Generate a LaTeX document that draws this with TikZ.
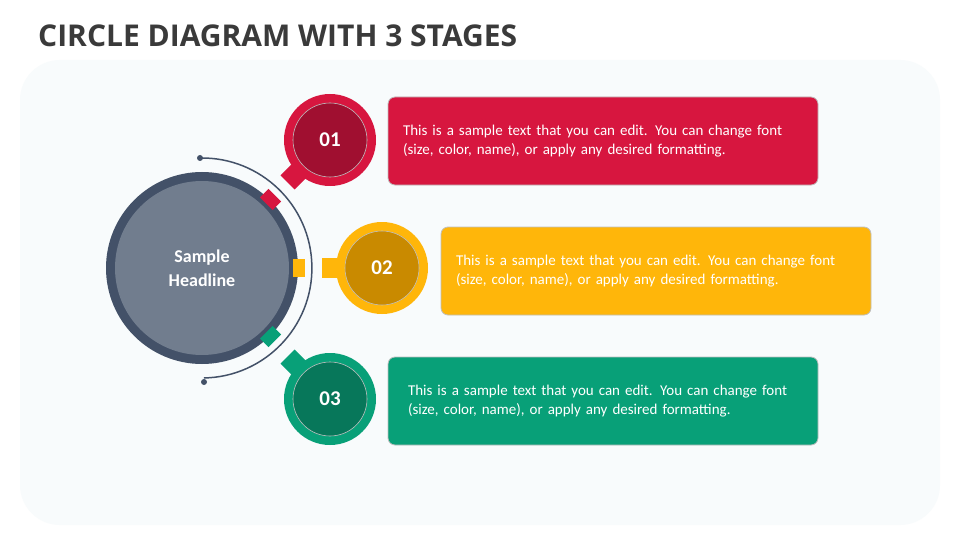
\documentclass[tikz,border=0pt]{standalone}
\usepackage{fontspec}
\usetikzlibrary{calc}
\setmainfont{Carlito}
\newfontfamily\titlefont{Open Sans}
\definecolor{cr}{HTML}{D7163F}\definecolor{crd}{HTML}{A00F30}
\definecolor{ye}{HTML}{FFB60A}\definecolor{yed}{HTML}{C98A00}
\definecolor{gr}{HTML}{08A078}\definecolor{grd}{HTML}{07775A}
\definecolor{nav}{HTML}{435168}\definecolor{gy}{HTML}{717D8E}
\definecolor{ttl}{HTML}{3A3A3A}
\definecolor{bgc}{HTML}{F8FBFC}
\begin{document}
\begin{tikzpicture}[x=1pt,y=-1pt,
 txtbox/.style={rounded corners=7pt,minimum width=430pt,minimum height=88pt,draw=black!25,line width=0.8pt,text=white,font=\fontsize{15}{19}\selectfont,align=left,text width=400pt,inner sep=0pt},
 num/.style={circle,minimum size=74pt,draw=white!75!black,line width=0.6pt,text=white,font=\bfseries\fontsize{21}{21}\selectfont}]
\useasboundingbox (0,0) rectangle (960,540);
\fill[white] (0,0) rectangle (960,540);
\fill[bgc,rounded corners=40pt] (20,60) rectangle (940,525);
\node[anchor=west,font=\titlefont\bfseries\fontsize{30}{30}\selectfont,text=ttl,inner sep=0pt] (title) at (38,36) {CIRCLE DIAGRAM WITH 3 STAGES};
% main circle
\coordinate (c) at (202,268);
\fill[nav] (c) circle (96);
\node[circle,fill=gy,minimum size=174pt,text=white,font=\bfseries\fontsize{18}{24}\selectfont,align=center] (main) at (c) {Sample\\Headline};
\draw[nav,line width=1.5pt] (200,158) arc[start angle=-91,end angle=89,radius=110];
\fill[nav] (200,158) circle (3) (204,382) circle (3);
% rim marks
\foreach \a/\col in {45/cr,0/ye,-45/gr}
 \fill[\col,rotate around={\a:(c)}] (293,259) rectangle (305,277);
% tabs
\foreach \px/\py/\a/\col in {330/140/45/cr,382/268/0/ye,330/399/-45/gr}
 \fill[\col,rotate around={\a:(\px,\py)}] (\px-60,\py-10) rectangle (\px-30,\py+10);
% number circles
\foreach \n/\px/\py/\col/\dk in {a/330/140/cr/crd,b/382/268/ye/yed,c/330/399/gr/grd}{
 \fill[\col] (\px,\py) circle (46);
 \node[num,fill=\dk] (n\n) at (\px,\py) {};}
\node[text=white,font=\bfseries\fontsize{21}{21}\selectfont] at (na) {01};
\node[text=white,font=\bfseries\fontsize{21}{21}\selectfont] at (nb) {02};
\node[text=white,font=\bfseries\fontsize{21}{21}\selectfont] at (nc) {03};
% boxes
\node[txtbox,fill=cr] (b1) at (603,141) {This is a sample text that you can edit. You can change font\\(size, color, name), or apply any desired formatting.};
\node[txtbox,fill=ye] (b2) at (656,271) {This is a sample text that you can edit. You can change font\\(size, color, name), or apply any desired formatting.};
\node[txtbox,fill=gr] (b3) at (603,401) {\hspace*{5pt}This is a sample text that you can edit. You can change font\\\hspace*{5pt}(size, color, name), or apply any desired formatting.};
\end{tikzpicture}
\end{document}
